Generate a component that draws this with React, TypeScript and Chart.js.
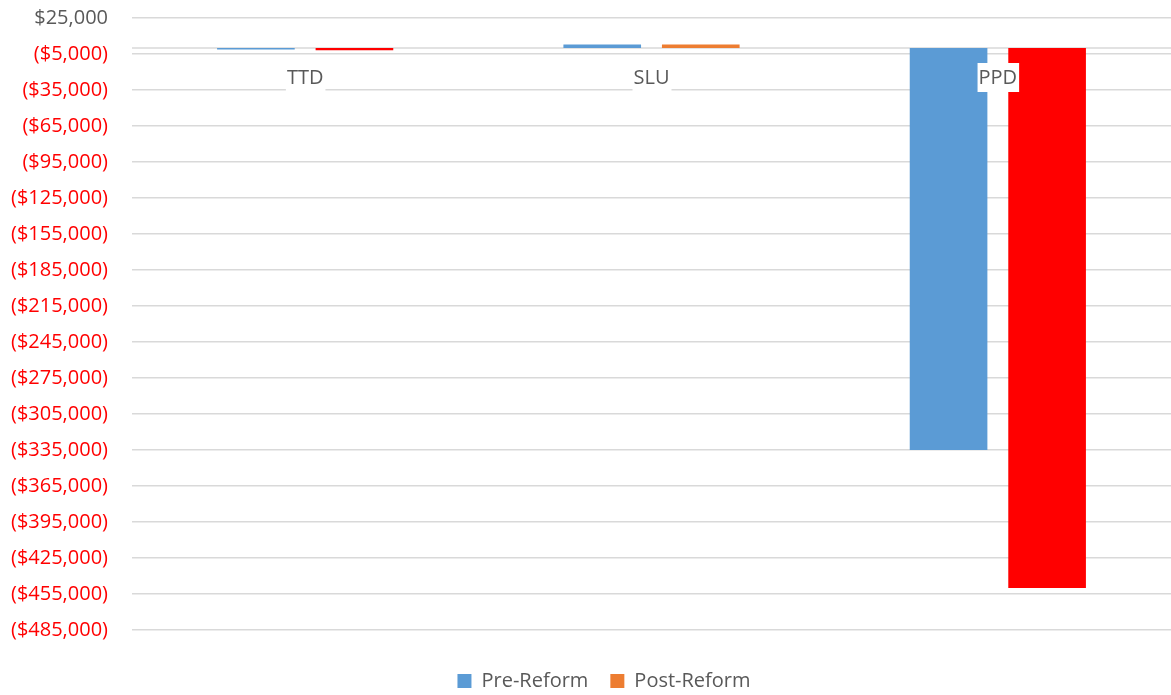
import React, { useEffect, useRef } from "react";
import { Chart, registerables } from "chart.js";

Chart.register(...registerables);

const categories = ["TTD", "SLU", "PPD"];
const preReform = [-1200, 3000, -335000];
const postReform = [-1800, 3000, -450000];
const yTicks = [25000, -5000, -35000, -65000, -95000, -125000, -155000, -185000, -215000, -245000, -275000, -305000, -335000, -365000, -395000, -425000, -455000, -485000];
const seriesColors = ["#5B9BD5", "#ED7D31"];
const negativePostColor = "#FF0000";

const FONT = "'Open Sans', 'DejaVu Sans', sans-serif";
const TEXT = "#595959";
const GRID = "#d9d9d9";

const fmt = (v: number) => {
  const s = "$" + Math.abs(v).toLocaleString("en-US");
  return v < 0 ? "(" + s + ")" : s;
};

const zeroAndLabels = {
  id: "zeroAndLabels",
  afterLayout(chart: any) {
    const l = chart.legend;
    if (l) {
      l.left += 16;
      l.right += 16;
    }
  },
  beforeDatasetsDraw(chart: any) {
    const { ctx, chartArea, scales } = chart;
    const y0 = scales.y.getPixelForValue(0);
    ctx.save();
    ctx.strokeStyle = GRID;
    ctx.lineWidth = 1.5;
    ctx.beginPath();
    ctx.moveTo(chartArea.left, y0);
    ctx.lineTo(chartArea.right, y0);
    ctx.stroke();
    ctx.restore();
  },
  afterDatasetsDraw(chart: any) {
    const { ctx, scales } = chart;
    const y0 = scales.y.getPixelForValue(0);
    ctx.save();
    ctx.font = "20px " + FONT;
    ctx.textAlign = "center";
    ctx.textBaseline = "middle";
    categories.forEach((c, i) => {
      const x = scales.x.getPixelForValue(i);
      const w = ctx.measureText(c).width;
      ctx.fillStyle = "#ffffff";
      ctx.fillRect(x - w / 2 - 1, y0 + 15, w + 3, 29);
      ctx.fillStyle = TEXT;
      ctx.fillText(c, x, y0 + 30);
    });
    ctx.restore();
  },
};

export default function App() {
  const ref = useRef<HTMLCanvasElement>(null);
  useEffect(() => {
    if (!ref.current) return;
    const chart = new Chart(ref.current, {
      type: "bar",
      data: {
        labels: categories,
        datasets: [
          {
            label: "Pre-Reform",
            data: preReform,
            backgroundColor: seriesColors[0],
            borderWidth: 0,
          },
          {
            label: "Post-Reform",
            data: postReform,
            backgroundColor: (ctx: any) =>
              ctx.type === "data" && typeof ctx.raw === "number" && ctx.raw < 0 ? negativePostColor : seriesColors[1],
            borderWidth: 0,
          },
        ],
      },
      options: {
        animation: false,
        responsive: true,
        maintainAspectRatio: false,
        datasets: { bar: { categoryPercentage: 0.569, barPercentage: 0.788 } },
        layout: { padding: { top: 18, right: -5, left: 0, bottom: -6 } },
        plugins: {
          tooltip: { enabled: false },
          legend: {
            position: "bottom",
            labels: {
              boxWidth: 14,
              boxHeight: 14,
              padding: 22,
              color: TEXT,
              font: { family: FONT, size: 20 },
              generateLabels: (chart: any) => {
                const items = Chart.defaults.plugins.legend.labels.generateLabels(chart);
                items.forEach((it: any, i: number) => {
                  it.fillStyle = seriesColors[i];
                  it.strokeStyle = seriesColors[i];
                  it.lineWidth = 0;
                });
                return items;
              },
            },
          },
        },
        scales: {
          x: {
            display: true,
            grid: { display: false },
            border: { display: false },
            ticks: { display: false },
            afterFit: (scale: any) => {
              scale.height = 19;
            },
          },
          y: {
            min: -485000,
            max: 25000,
            afterBuildTicks: (scale: any) => {
              scale.ticks = yTicks.map((v) => ({ value: v }));
            },
            afterFit: (scale: any) => {
              scale.width = 132;
              scale.paddingTop = 0;
              scale.paddingBottom = 0;
            },
            grid: { color: GRID, lineWidth: 1.5, drawTicks: false },
            border: { display: false },
            ticks: {
              padding: 24,
              font: { family: FONT, size: 20 },
              color: (ctx: any) => (ctx.tick && ctx.tick.value < 0 ? "#FF0000" : TEXT),
              callback: (v: any) => fmt(Number(v)),
            },
          },
        },
      },
      plugins: [zeroAndLabels],
    });
    return () => chart.destroy();
  }, []);
  return (
    <div style={{ position: "absolute", left: 0, top: 0, width: 1171, height: 695, background: "#fff", overflow: "hidden" }}>
      <canvas ref={ref} />
    </div>
  );
}
